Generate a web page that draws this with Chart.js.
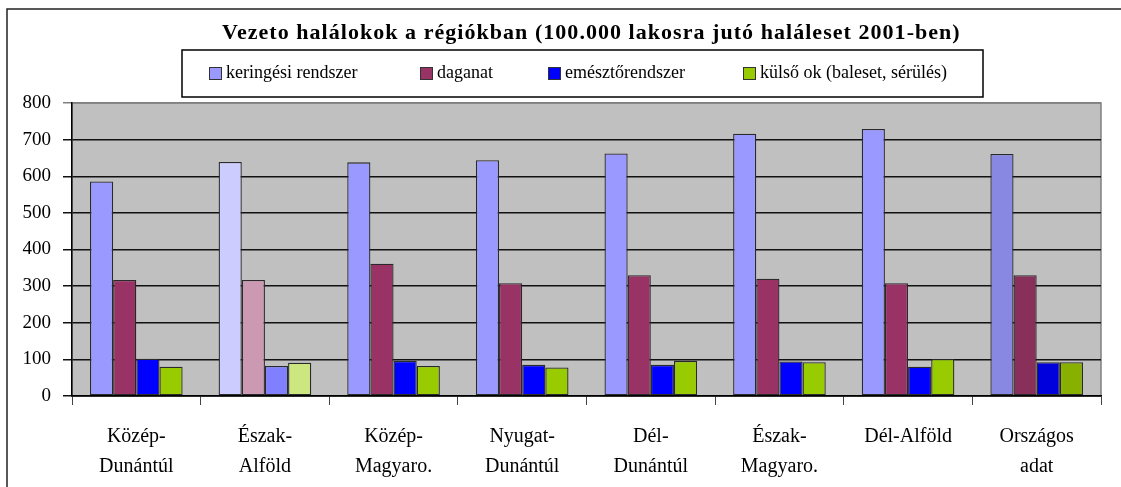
<!DOCTYPE html>
<html>
<head>
<meta charset="utf-8">
<title>Vezeto halálokok a régiókban</title>
<script src="https://cdn.jsdelivr.net/npm/chart.js@4.4.1/dist/chart.umd.min.js"></script>
<style>
  html, body { margin: 0; padding: 0; background: #fff; }
  #wrap { width: 1121px; height: 487px; position: relative; }
</style>
</head>
<body>
<div id="wrap"><canvas id="deathChart"></canvas></div>
<script>
// --- data ---
const regions = [
  ['Közép-', 'Dunántúl'],
  ['Észak-', 'Alföld'],
  ['Közép-', 'Magyaro.'],
  ['Nyugat-', 'Dunántúl'],
  ['Dél-', 'Dunántúl'],
  ['Észak-', 'Magyaro.'],
  ['Dél-Alföld'],
  ['Országos', 'adat'],
];
const seriesNames = ['keringési rendszer', 'daganat', 'emésztőrendszer', 'külső ok (baleset, sérülés)'];
const keringesi = [586, 639, 638, 644, 662, 716, 729, 661];
const daganat   = [317, 317, 361, 308, 330, 320, 308, 330];
const emeszto   = [102,  82,  96,  85,  85,  94,  80,  92];
const kulso     = [ 80,  91,  82,  78,  96,  92, 101,  92];
const yTicks    = [0, 100, 200, 300, 400, 500, 600, 700, 800];

const TITLE = 'Vezeto halálokok a régiókban (100.000 lakosra jutó haláleset 2001-ben)';

// --- styling ---
const SERIF = '"Liberation Serif", "Times New Roman", serif';
// base colour, then the paler 2nd group and the darker last group (as in the sheet)
const PALETTE = [
  { base: '#9999FF', pale: '#CCCCFF', dark: '#8888E2' },
  { base: '#993366', pale: '#CC99B2', dark: '#88305A' },
  { base: '#0000FF', pale: '#8080FF', dark: '#0000DC' },
  { base: '#99CC00', pale: '#CCE680', dark: '#88B000' },
];
const LEGEND_BOX = { left: 182, top: 50, right: 983, bottom: 97 };
const LEGEND_X = [209, 420, 548, 743];

function barColors(p) {
  return regions.map((r, i) => i === 1 ? p.pale : (i === regions.length - 1 ? p.dark : p.base));
}

const plotBg = {
  id: 'plotBg',
  beforeDraw(chart) {
    const { ctx, chartArea: a } = chart;
    ctx.save();
    // outer frame of the sheet
    ctx.strokeStyle = '#222';
    ctx.lineWidth = 1.5;
    ctx.beginPath();
    ctx.moveTo(7, 487);
    ctx.lineTo(7, 9);
    ctx.lineTo(1121, 9);
    ctx.stroke();
    // grey plot area
    ctx.fillStyle = '#C0C0C0';
    ctx.fillRect(a.left, a.top, a.right - a.left, a.bottom - a.top);
    ctx.strokeStyle = '#808080';
    ctx.lineWidth = 1.5;
    ctx.strokeRect(a.left, a.top, a.right - a.left, a.bottom - a.top);
    ctx.restore();
  }
};

const titleAndLegend = {
  id: 'titleAndLegend',
  afterDraw(chart) {
    const ctx = chart.ctx;
    ctx.save();
    // title, stretched to the width it has in the sheet
    ctx.font = 'bold 22px ' + SERIF;
    ctx.fillStyle = '#000';
    ctx.textAlign = 'left';
    ctx.textBaseline = 'alphabetic';
    const w = ctx.measureText(TITLE).width;
    const spacing = (738 - w) / (TITLE.length - 1);
    ctx.letterSpacing = spacing.toFixed(2) + 'px';
    ctx.fillText(TITLE, 222, 39);
    ctx.letterSpacing = '0px';

    // legend frame
    const b = LEGEND_BOX;
    ctx.fillStyle = '#fff';
    ctx.fillRect(b.left, b.top, b.right - b.left, b.bottom - b.top);
    ctx.strokeStyle = '#000';
    ctx.lineWidth = 1.5;
    ctx.strokeRect(b.left, b.top, b.right - b.left, b.bottom - b.top);

    ctx.font = '18px ' + SERIF;
    ctx.textBaseline = 'middle';
    chart.data.datasets.forEach((ds, i) => {
      const x = LEGEND_X[i];
      ctx.fillStyle = PALETTE[i].base;
      ctx.fillRect(x, 67, 13, 13);
      ctx.strokeStyle = '#333';
      ctx.lineWidth = 1;
      ctx.strokeRect(x + 0.5, 67.5, 12, 12);
      ctx.fillStyle = '#000';
      ctx.fillText(ds.label, x + 17, 73);
    });
    ctx.restore();
  }
};

const datasets = [keringesi, daganat, emeszto, kulso].map((values, i) => ({
  label: seriesNames[i],
  data: values,
  backgroundColor: barColors(PALETTE[i]),
  borderColor: '#2a2a2a',
  borderWidth: 1.3,
  borderSkipped: false,
  categoryPercentage: 0.72,
  barPercentage: 1.0,
}));

new Chart(document.getElementById('deathChart').getContext('2d'), {
  type: 'bar',
  data: { labels: regions, datasets },
  options: {
    responsive: true,
    maintainAspectRatio: false,
    animation: false,
    layout: { padding: { top: 103, right: 20, bottom: 0, left: 0 } },
    plugins: {
      legend: { display: false },
      title: { display: false },
      tooltip: { enabled: false },
    },
    scales: {
      x: {
        grid: {
          offset: true,
          drawOnChartArea: false,
          drawTicks: true,
          tickLength: 9,
          color: '#444',
        },
        border: { display: true, color: '#000', width: 1.5 },
        ticks: {
          color: '#000',
          font: { family: SERIF, size: 20, lineHeight: 30 / 20 },
          padding: 17,
          maxRotation: 0,
          autoSkip: false,
        },
        afterFit: scale => { scale.height = 91; },
      },
      y: {
        min: 0,
        max: 800,
        afterBuildTicks: scale => { scale.ticks = yTicks.map(v => ({ value: v })); },
        grid: {
          color: ctx => ctx.tick && ctx.tick.value === 800 ? '#808080' : '#111',
          lineWidth: 1.5,
          tickLength: 9,
        },
        border: { display: true, color: '#000', width: 1.5 },
        ticks: {
          color: '#000',
          font: { family: SERIF, size: 19 },
          padding: 12,
        },
        afterFit: scale => { scale.width = 72; },
      },
    },
  },
  plugins: [plotBg, titleAndLegend],
});
</script>
</body>
</html>
